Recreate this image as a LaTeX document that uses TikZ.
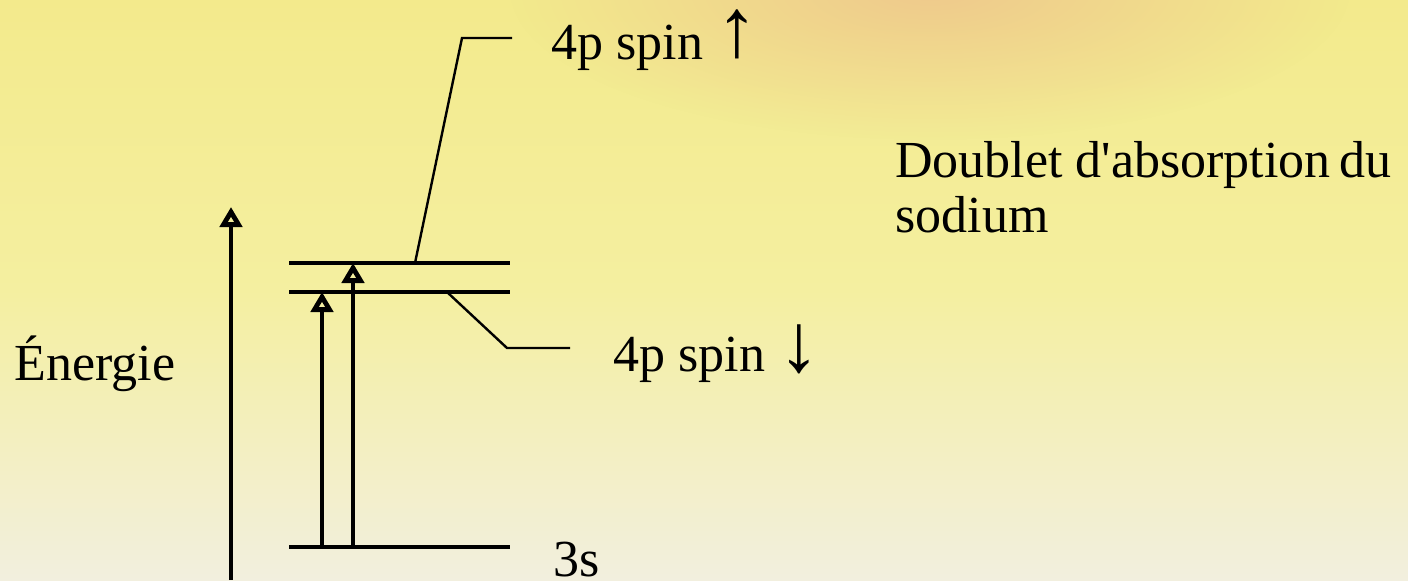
\documentclass[tikz,border=0pt]{standalone}
\usepackage{fontspec}
\setmainfont{Liberation Serif}[Ligatures=TeXOff]
\usetikzlibrary{arrows.meta,fadings}
\definecolor{bgtop}{RGB}{243,234,140}
\definecolor{bgmid}{RGB}{244,239,160}
\definecolor{bgbot}{RGB}{242,239,222}
\definecolor{glowc}{RGB}{238,196,140}
\tikzfading[name=glowfade, inner color=transparent!15, outer color=transparent!100]
\tikzset{
  level/.style={line width=2.1pt},
  trans/.style={line width=1.6pt, -{Triangle[open,length=10pt,width=11pt,line width=2.4pt]}},
  leader/.style={line width=1.2pt},
  lbl/.style={inner sep=0pt, anchor=base west, font=\fontsize{26}{30}\selectfont}
}
\newcommand{\bigarr}[1]{\raisebox{#1}{\scalebox{1.6}[1.6]{\char"2191}}}
\newcommand{\bigarrdn}{\scalebox{1.6}[1.6]{\char"2193}}
\begin{document}
\begin{tikzpicture}[x=0.5pt,y=-0.5pt]
\useasboundingbox (0,0) rectangle (1408,580);
\shade[top color=bgtop, bottom color=bgbot, middle color=bgmid] (0,0) rectangle (1408,580);
\begin{scope}
\clip (0,0) rectangle (1408,580);
\fill[glowc, path fading=glowfade] (930,-10) ellipse [x radius=420, y radius=150];
\end{scope}
% coordinates
\coordinate (eb) at (231,580);
\coordinate (et) at (231,207);
\coordinate (upL) at (289,263); \coordinate (upR) at (510,263);
\coordinate (dnL) at (289,292); \coordinate (dnR) at (510,292);
\coordinate (sL) at (289,547);  \coordinate (sR) at (510,547);
\coordinate (a1b) at (322,547); \coordinate (a1t) at (322,292);
\coordinate (a2b) at (353,547); \coordinate (a2t) at (353,263);
\coordinate (lu0) at (415,263); \coordinate (lu1) at (462,38); \coordinate (lu2) at (512,38);
\coordinate (ld0) at (447,292); \coordinate (ld1) at (507,348); \coordinate (ld2) at (570,348);
% energy axis
\draw[trans] (eb) -- (et);
% levels
\draw[level] (upL) -- (upR);
\draw[level] (dnL) -- (dnR);
\draw[level] (sL) -- (sR);
% transitions
\draw[trans] (a1b) -- (a1t);
\draw[trans] (a2b) -- (a2t);
% leaders
\draw[leader] (lu0) -- (lu1) -- (lu2);
\draw[leader] (ld0) -- (ld1) -- (ld2);
% labels
\node[lbl] (tup) at (551,59) {4p spin \bigarr{1.5pt}};
\node[lbl] (tdn) at (613,371) {4p spin \bigarrdn};
\node[lbl] (ten) at (14,380) {Énergie};
\node[lbl] (t3s) at (553,576) {3s};
\node[lbl] (td1) at (895,177) {Doublet d'absorption\,du};
\node[lbl] (td2) at (895,232) {sodium};
\end{tikzpicture}
\end{document}
